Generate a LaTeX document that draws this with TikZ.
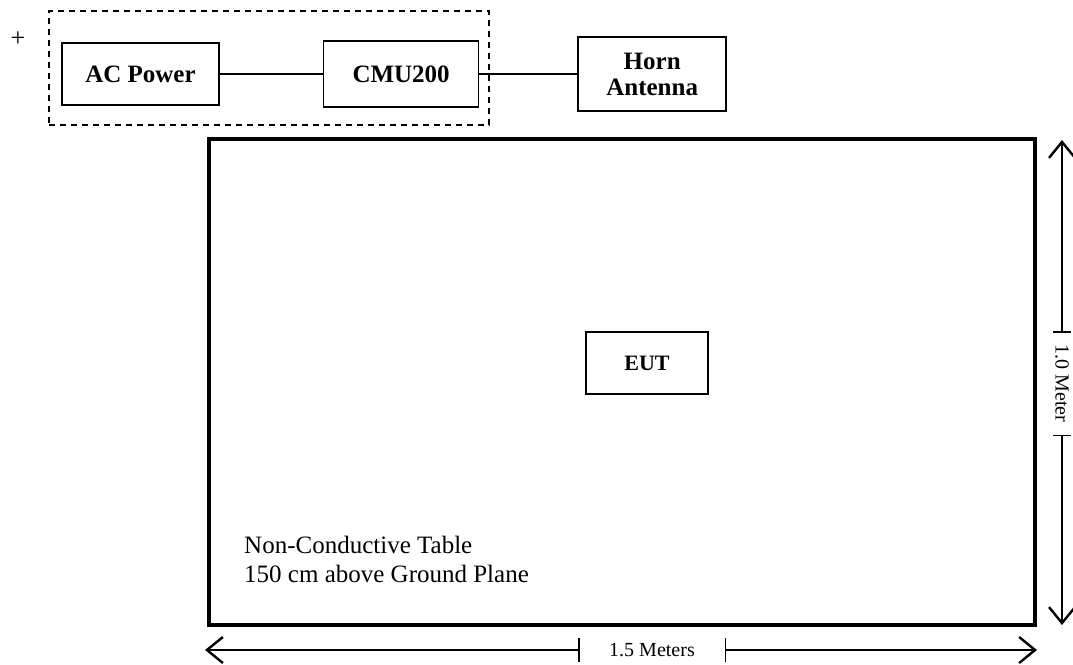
\documentclass[tikz,border=0pt]{standalone}
\usepackage{fontspec}
\setmainfont{Liberation Serif}
\usetikzlibrary{arrows.meta,positioning}
\tikzset{
  devbox/.style={rectangle, draw, line width=1.6pt, align=center,
                 font=\fontsize{25}{26}\selectfont\bfseries, inner sep=0pt},
  groupbox/.style={rectangle, draw, dash pattern=on 6pt off 5pt,
                   line width=1.5pt, inner sep=0pt},
  tablebox/.style={rectangle, draw, line width=3.5pt, inner sep=0pt},
  wire/.style={line width=1.4pt},
  dimarrow/.style={-{Straight Barb[length=16pt,width=26pt,line width=2.4pt]}, line width=1.3pt},
  dimlbl/.style={font=\fontsize{20}{24}\selectfont, inner sep=0pt, minimum height=24pt},
  note/.style={font=\fontsize{25}{29}\selectfont, align=left, inner sep=0pt}
}
\begin{document}
\begin{tikzpicture}[x=1pt,y=-1pt]
  \path[fill=white, use as bounding box] (0,0) rectangle (1073,664);
  \node[font=\fontsize{26}{26}\selectfont, inner sep=0pt] (plus) at (18,39) {+};
  \node[groupbox, minimum width=440pt, minimum height=114pt] (group) at (269,68) {};
  \node[devbox, minimum width=157pt, minimum height=62pt] (ac) at (140.5,74) {AC Power};
  \node[devbox, minimum width=155pt, minimum height=66pt, right=103pt of ac] (cmu) {CMU200};
  \node[devbox, minimum width=148pt, minimum height=74pt, right=98pt of cmu] (horn) {Horn\\Antenna};
  \node[tablebox, minimum width=826pt, minimum height=486pt] (table) at (622,382) {};
  \node[devbox, font=\fontsize{22}{22}\selectfont\bfseries,
        minimum width=122pt, minimum height=62pt] (eut) at (647,363) {EUT};
  \node[note, anchor=north west] (tabletxt) at (244,536) {Non-Conductive Table\\150 cm above Ground Plane};
  \draw[wire] (ac) -- (cmu);
  \draw[wire] (cmu) -- (horn);
  % width of the table
  \coordinate (wl) at (205,650);
  \coordinate (wr) at (1037,650);
  \node[dimlbl, minimum width=146pt] (wlbl) at (652,650) {1.5 Meters};
  \draw[dimarrow] (wlbl.west) -- (wl);
  \draw[dimarrow] (wlbl.east) -- (wr);
  \draw[wire] (wlbl.north west) -- (wlbl.south west);
  \draw[wire] (wlbl.north east) -- (wlbl.south east);
  % depth of the table
  \coordinate (ht) at (1062,140);
  \coordinate (hb) at (1062,625);
  \node[dimlbl, rotate=-90, minimum width=103pt, minimum height=18pt] (hlbl) at (1062,383.5) {1.0 Meter};
  \draw[dimarrow] (hlbl.west) -- (ht);
  \draw[dimarrow] (hlbl.east) -- (hb);
  \draw[wire] (hlbl.north west) -- (hlbl.south west);
  \draw[wire] (hlbl.north east) -- (hlbl.south east);
\end{tikzpicture}
\end{document}
